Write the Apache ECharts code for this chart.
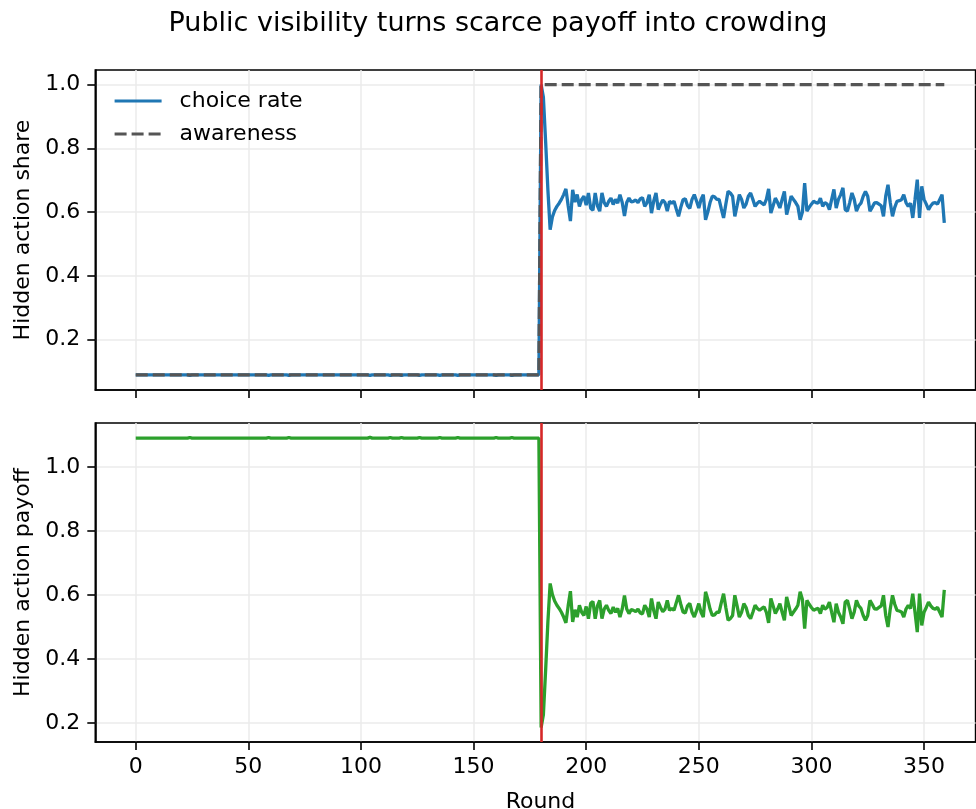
<!DOCTYPE html>
<html><head><meta charset="utf-8">
<script src="https://cdn.jsdelivr.net/npm/echarts@6/dist/echarts.min.js"></script>
<style>html,body{margin:0;padding:0;background:#fff}#c{width:976px;height:809px}</style>
</head><body><div id="c"></div>
<script>
// Rounds 0..179 (hidden action before visibility)
const sharePre = [
.09,.09,.09,.09,.09,.09,.09,.09,.09,.09,.09,.09,.09,.09,.09,.09,.09,.09,.09,.09,
.09,.09,.09,.09,.088,.09,.09,.09,.09,.09,.09,.09,.09,.09,.09,.09,.09,.09,.09,.09,
.09,.09,.09,.09,.09,.09,.09,.09,.09,.09,.09,.09,.09,.09,.09,.09,.09,.09,.09,.088,
.09,.09,.09,.09,.09,.09,.09,.09,.088,.09,.09,.09,.09,.09,.09,.09,.09,.09,.09,.09,
.09,.09,.09,.09,.09,.09,.09,.09,.09,.09,.09,.09,.09,.09,.09,.09,.09,.09,.09,.09,
.09,.09,.09,.09,.088,.09,.09,.09,.09,.09,.09,.09,.09,.088,.09,.09,.09,.09,.088,.09,
.09,.09,.09,.09,.09,.09,.088,.09,.09,.09,.09,.09,.09,.09,.09,.088,.09,.09,.09,.09,
.09,.09,.09,.088,.09,.09,.09,.09,.09,.09,.09,.09,.09,.09,.09,.09,.09,.09,.09,.09,
.088,.09,.09,.09,.09,.09,.09,.088,.09,.09,.09,.09,.09,.09,.09,.09,.09,.09,.09,.09
];
// Rounds 180..359
const sharePost = [
1.000,0.960,0.820,0.670,0.545,0.585,0.605,0.618,0.628,0.640,
0.655,0.673,0.620,0.572,0.670,0.632,0.655,0.618,0.640,0.650,
0.622,0.660,0.612,0.606,0.660,0.620,0.603,0.660,0.630,0.618,
0.634,0.644,0.624,0.640,0.628,0.655,0.630,0.588,0.630,0.644,
0.632,0.634,0.638,0.630,0.642,0.645,0.618,0.630,0.655,0.597,
0.635,0.660,0.608,0.625,0.638,0.630,0.603,0.634,0.628,0.634,
0.610,0.587,0.615,0.639,0.642,0.620,0.612,0.640,0.655,0.635,
0.613,0.640,0.655,0.576,0.600,0.630,0.650,0.648,0.640,0.640,
0.610,0.582,0.625,0.665,0.660,0.650,0.587,0.620,0.655,0.640,
0.613,0.625,0.650,0.660,0.640,0.618,0.628,0.634,0.628,0.623,
0.640,0.673,0.597,0.620,0.644,0.630,0.613,0.640,0.665,0.592,
0.620,0.650,0.640,0.630,0.618,0.576,0.600,0.691,0.603,0.615,
0.625,0.634,0.630,0.628,0.644,0.618,0.630,0.625,0.608,0.640,
0.671,0.613,0.640,0.655,0.676,0.608,0.603,0.630,0.660,0.640,
0.603,0.620,0.628,0.650,0.665,0.650,0.603,0.615,0.629,0.630,
0.625,0.620,0.587,0.650,0.686,0.630,0.587,0.615,0.634,0.636,
0.639,0.655,0.630,0.618,0.628,0.582,0.640,0.702,0.582,0.681,
0.640,0.625,0.608,0.620,0.628,0.630,0.625,0.640,0.655,0.566
];
const payoffPre = [
1.09,1.09,1.09,1.09,1.09,1.09,1.09,1.09,1.09,1.09,1.09,1.09,1.09,1.09,1.09,1.09,1.09,1.09,1.09,1.09,
1.09,1.09,1.09,1.09,1.092,1.09,1.09,1.09,1.09,1.09,1.09,1.09,1.09,1.09,1.09,1.09,1.09,1.09,1.09,1.09,
1.09,1.09,1.09,1.09,1.09,1.09,1.09,1.09,1.09,1.09,1.09,1.09,1.09,1.09,1.09,1.09,1.09,1.09,1.09,1.092,
1.09,1.09,1.09,1.09,1.09,1.09,1.09,1.09,1.092,1.09,1.09,1.09,1.09,1.09,1.09,1.09,1.09,1.09,1.09,1.09,
1.09,1.09,1.09,1.09,1.09,1.09,1.09,1.09,1.09,1.09,1.09,1.09,1.09,1.09,1.09,1.09,1.09,1.09,1.09,1.09,
1.09,1.09,1.09,1.09,1.093,1.09,1.09,1.09,1.09,1.09,1.09,1.09,1.09,1.092,1.09,1.09,1.09,1.09,1.092,1.09,
1.09,1.09,1.09,1.09,1.09,1.09,1.092,1.09,1.09,1.09,1.09,1.09,1.09,1.09,1.09,1.092,1.09,1.09,1.09,1.09,
1.09,1.09,1.09,1.092,1.09,1.09,1.09,1.09,1.09,1.09,1.09,1.09,1.09,1.09,1.09,1.09,1.09,1.09,1.09,1.09,
1.092,1.09,1.09,1.09,1.09,1.09,1.09,1.092,1.09,1.09,1.09,1.09,1.09,1.09,1.09,1.09,1.09,1.09,1.09,1.09
];
const payoffPost = [
0.186,0.226,0.366,0.516,0.636,0.601,0.581,0.568,0.558,0.546,
0.531,0.513,0.566,0.612,0.516,0.554,0.531,0.568,0.546,0.536,
0.564,0.526,0.574,0.580,0.526,0.566,0.583,0.526,0.556,0.568,
0.552,0.542,0.562,0.546,0.558,0.531,0.556,0.598,0.556,0.542,
0.554,0.552,0.548,0.556,0.544,0.541,0.568,0.556,0.531,0.589,
0.551,0.526,0.578,0.561,0.548,0.556,0.583,0.552,0.558,0.552,
0.576,0.599,0.571,0.547,0.544,0.566,0.574,0.546,0.531,0.551,
0.573,0.546,0.531,0.610,0.586,0.556,0.536,0.538,0.546,0.546,
0.576,0.604,0.561,0.521,0.526,0.536,0.599,0.566,0.531,0.546,
0.573,0.561,0.536,0.526,0.546,0.568,0.558,0.552,0.558,0.563,
0.546,0.513,0.589,0.566,0.542,0.556,0.573,0.546,0.521,0.594,
0.566,0.536,0.546,0.556,0.568,0.610,0.586,0.495,0.583,0.571,
0.561,0.552,0.556,0.558,0.542,0.568,0.556,0.561,0.578,0.546,
0.515,0.573,0.546,0.531,0.510,0.578,0.583,0.556,0.526,0.546,
0.583,0.566,0.558,0.536,0.521,0.536,0.583,0.571,0.557,0.556,
0.561,0.566,0.599,0.536,0.500,0.556,0.599,0.571,0.552,0.550,
0.547,0.531,0.556,0.568,0.558,0.604,0.546,0.484,0.604,0.505,
0.546,0.561,0.578,0.566,0.558,0.556,0.561,0.546,0.531,0.616
];
// Awareness: breakpoints of a step
const awarenessRounds = [0, 179, 180, 359];
const awarenessValues = [0.09, 0.09, 1.0, 1.0];
const visibilityRound = 180;
const xTicks = [0, 50, 100, 150, 200, 250, 300, 350];
const yTicks = [0.2, 0.4, 0.6, 0.8, 1.0];

const share = sharePre.concat(sharePost).map((v, i) => [i, v]);
const payoff = payoffPre.concat(payoffPost).map((v, i) => [i, v]);
const awareness = awarenessRounds.map((r, i) => [r, awarenessValues[i]]);

const FONT = 'DejaVu Sans';
const FS = 22;
const chart = echarts.init(document.getElementById('c'), null, {renderer: 'canvas'});

function xAxisCfg(idx, showLabels) {
  return {
    gridIndex: idx, type: 'value', min: -17.95, max: 372.9,
    name: showLabels ? 'Round' : '', nameLocation: 'middle', nameGap: 49,
    nameTextStyle: {fontFamily: FONT, fontSize: FS, color: '#000', padding: [0, 0, 0, 10]},
    axisLine: {show: true, onZero: false, lineStyle: {color: '#000', width: 1.6}},
    axisTick: {show: true, customValues: xTicks, length: 8, lineStyle: {color: '#000', width: 1.6}},
    axisLabel: {show: showLabels, customValues: xTicks, margin: 14, fontFamily: FONT, fontSize: FS, color: '#000'},
    splitLine: {show: true, lineStyle: {color: '#ebebeb', width: 1.5}}
  };
}
function yAxisCfg(idx, name, min, max) {
  return {
    gridIndex: idx, type: 'value', min: min, max: max,
    name: name, nameLocation: 'middle', nameGap: 60,
    nameTextStyle: {fontFamily: FONT, fontSize: FS, color: '#000'},
    axisLine: {show: true, onZero: false, lineStyle: {color: '#000', width: 1.6}},
    axisTick: {show: true, customValues: yTicks, length: 8, lineStyle: {color: '#000', width: 1.6}},
    axisLabel: {show: true, customValues: yTicks, margin: 15, fontFamily: FONT, fontSize: FS, color: '#000',
      formatter: v => v.toFixed(1)},
    splitLine: {show: true, lineStyle: {color: '#ebebeb', width: 1.5}}
  };
}
const redLine = {
  silent: true, symbol: ['none', 'none'], label: {show: false}, animation: false,
  lineStyle: {color: '#d62728', width: 2.6, type: 'solid'},
  emphasis: {disabled: true},
  data: [{xAxis: visibilityRound}]
};

chart.setOption({
  animation: false,
  backgroundColor: '#fff',
  title: {
    text: 'Public visibility turns scarce payoff into crowding',
    left: 493, top: 5, textAlign: 'center',
    textStyle: {fontFamily: FONT, fontSize: 27, fontWeight: 'normal', color: '#000'}
  },
  legend: {
    orient: 'vertical', left: 108, top: 85, itemWidth: 47, itemHeight: 14, itemGap: 11,
    itemStyle: {opacity: 0},
    lineStyle: {width: 3.2},
    textStyle: {fontFamily: FONT, fontSize: FS, color: '#000', padding: [0, 0, 0, 13]},
    data: ['choice rate', 'awareness']
  },
  grid: [
    {left: 95.3, top: 70, width: 880.3, height: 320, outerBoundsMode: 'none', containLabel: false,
     show: true, borderColor: '#000', borderWidth: 1.6, backgroundColor: 'transparent'},
    {left: 95.3, top: 423, width: 880.3, height: 319, outerBoundsMode: 'none', containLabel: false,
     show: true, borderColor: '#000', borderWidth: 1.6, backgroundColor: 'transparent'}
  ],
  xAxis: [xAxisCfg(0, false), xAxisCfg(1, true)],
  yAxis: [
    yAxisCfg(0, 'Hidden action share', 0.0424, 1.0456),
    yAxisCfg(1, 'Hidden action payoff', 0.1407, 1.1373)
  ],
  series: [
    {name: 'choice rate', type: 'line', xAxisIndex: 0, yAxisIndex: 0, data: share,
     symbol: 'none', showSymbol: false, z: 2,
     lineStyle: {color: '#1f77b4', width: 3.3}, itemStyle: {color: '#1f77b4'},
     markLine: redLine},
    {name: 'awareness', type: 'line', xAxisIndex: 0, yAxisIndex: 0, data: awareness,
     symbol: 'none', showSymbol: false, z: 3,
     lineStyle: {color: '#555555', width: 3.3, type: [12, 5]}, itemStyle: {color: '#555555'}},
    {name: 'payoff', type: 'line', xAxisIndex: 1, yAxisIndex: 1, data: payoff,
     symbol: 'none', showSymbol: false, z: 2,
     lineStyle: {color: '#2ca02c', width: 3.3}, itemStyle: {color: '#2ca02c'},
     markLine: redLine}
  ]
});
</script>
</body></html>
